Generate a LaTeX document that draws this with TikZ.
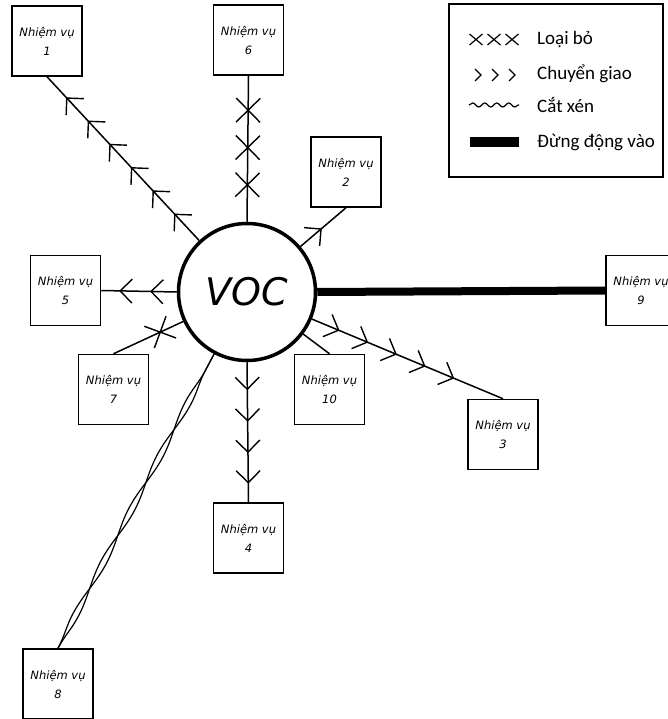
\documentclass[tikz,border=0pt]{standalone}
\usepackage{fontspec}
\setmainfont{Carlito}
\newfontfamily\handfont{DejaVu Sans}
\usetikzlibrary{decorations.markings,decorations.pathmorphing}
\begin{document}
\begin{tikzpicture}[x=1pt,y=-1pt,
  box/.style={draw, line width=1.5pt, minimum width=70pt, minimum height=70pt, inner sep=0pt, align=center,
    font=\handfont\itshape\fontsize{11.5}{19}\selectfont},
  conn/.style={line width=1.5pt},
  tickline/.style={line width=1.4pt},
  fc/.style={postaction={decorate,decoration={markings,mark=at position #1 with {\draw[tickline] (-12,-12)--(0,0)--(-12,12);}}}},
  bc/.style={postaction={decorate,decoration={markings,mark=at position #1 with {\draw[tickline] (12,-12)--(0,0)--(12,12);}}}},
  xm/.style={postaction={decorate,decoration={markings,mark=at position #1 with {\draw[tickline] (-12,-12)--(12,12) (-12,12)--(12,-12);}}}},
  rope/.style={line width=1.2pt, decorate, decoration={snake, amplitude=3pt, segment length=120pt}},
  ropeb/.style={line width=1.2pt, decorate, decoration={snake, amplitude=3pt, segment length=120pt, mirror}},
  legtext/.style={font=\fontsize{19}{19}\selectfont, inner sep=0pt, anchor=base west},
  legsym/.style={line width=1.2pt}]
\useasboundingbox (0,0) rectangle (667,719);

% centre
\node[circle, draw, line width=3.5pt, minimum size=137pt, inner sep=0pt,
      font=\handfont\itshape\fontsize{38}{38}\selectfont] (voc) at (247,292) {VOC};

% tasks
\node[box] (b1) at (47,41) {Nhiệm vụ\\1};
\node[box] (b6) at (248.5,40) {Nhiệm vụ\\6};
\node[box] (b2) at (346,172) {Nhiệm vụ\\2};
\node[box] (b5) at (65.5,290.5) {Nhiệm vụ\\5};
\node[box] (b7) at (113.5,389.5) {Nhiệm vụ\\7};
\node[box] (b9) at (641,290.5) {Nhiệm vụ\\9};
\node[box] (b10) at (329.5,389.5) {Nhiệm vụ\\10};
\node[box] (b3) at (503,434.5) {Nhiệm vụ\\3};
\node[box] (b4) at (248.5,538) {Nhiệm vụ\\4};
\node[box] (b8) at (58,684) {Nhiệm vụ\\8};

% connectors
\draw[conn, bc=0.13, bc=0.272, bc=0.414, bc=0.556, bc=0.698, bc=0.84] (b1.south) -- (voc);
\draw[conn, xm=0.236, xm=0.492, xm=0.747] (b6.south) -- (voc.north);
\draw[conn, bc=0.55] (b2.south) -- (voc);
\draw[conn, bc=0.25, bc=0.66] (b5.east) -- (voc.west);
\draw[conn, xm=0.67] (b7.north) -- (voc);
\draw[rope] (b8.north) -- (voc);
\draw[ropeb] (b8.north) -- (voc);
\draw[conn, fc=0.193, fc=0.418, fc=0.642, fc=0.86] (voc.south) -- (b4.north);
\draw[conn] (voc) -- (b10.north);
\draw[conn, fc=0.14, fc=0.29, fc=0.44, fc=0.59, fc=0.74] (voc) -- (b3.north);
\draw[line width=8pt] (voc.east) -- (b9.west);

% legend
\draw[line width=1.3pt] (449,4) rectangle (663,177);
\foreach \cx in {476,494,512} \draw[legsym] (\cx-6.5,34) -- (\cx+6.5,45) (\cx-6.5,45) -- (\cx+6.5,34);
\foreach \cx in {478,495,512} \draw[legsym] (\cx-3,69) -- (\cx+3,75) -- (\cx-3,81);
\draw[legsym, decorate, decoration={snake, amplitude=2pt, segment length=12pt}] (469,105) -- (519,105);
\fill (470,137) rectangle (519,147);
\node[legtext] (l1) at (537,45) {Loại bỏ};
\node[legtext] (l2) at (537,80) {Chuyển giao};
\node[legtext] (l3) at (537,113) {Cắt xén};
\node[legtext] (l4) at (537,148) {Đừng động vào};
\end{tikzpicture}
\end{document}
